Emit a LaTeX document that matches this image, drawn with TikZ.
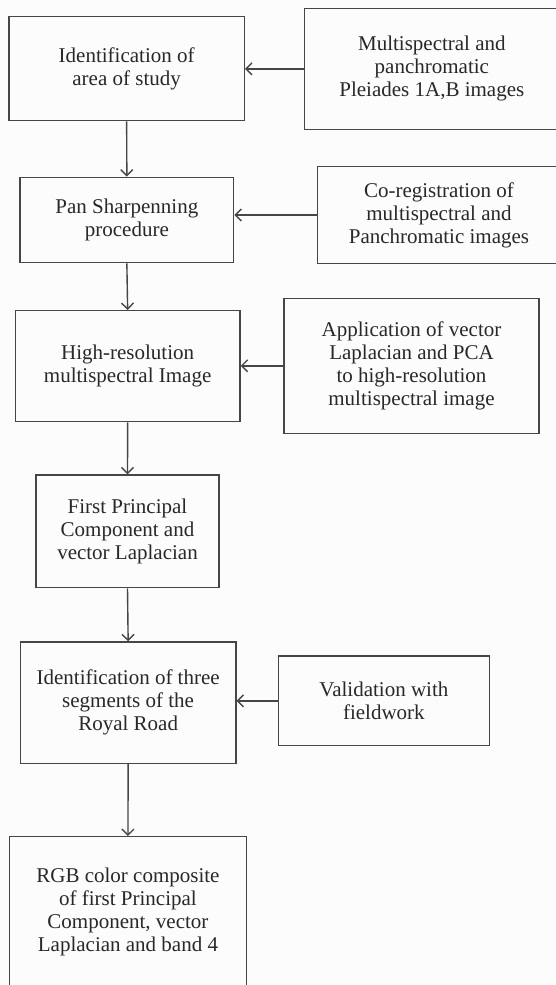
\documentclass[tikz,border=0pt]{standalone}
\usepackage{fontspec}
\setmainfont{Liberation Serif}
\usetikzlibrary{arrows.meta}
\definecolor{bg}{RGB}{252,252,252}
\definecolor{linec}{RGB}{70,70,70}
\definecolor{textc}{RGB}{40,40,40}
\tikzset{
  box/.style={draw=linec, line width=1.4pt, align=center, inner sep=0pt,
    text=textc, font=\fontsize{21}{23}\selectfont},
  conn/.style={draw=linec, line width=1.4pt, -{Straight Barb[length=6pt,width=12pt,line width=1.4pt]}}
}
\begin{document}
\begin{tikzpicture}[x=1pt,y=-1pt]
\fill[bg] (0,0) rectangle (555,985);
\useasboundingbox (0,0) rectangle (555,985);
% left column
\node[box, minimum width=235.3pt, minimum height=104pt] (b1) at (126.65,68.7) {Identification of\\area of study};
\node[box, minimum width=213.7pt, minimum height=85.4pt] (b3) at (126.85,220) {Pan Sharpenning\\procedure};
\node[box, minimum width=224.7pt, minimum height=111pt] (b5) at (127.65,366.2) {High-resolution\\multispectral Image};
\node[box, minimum width=183pt, minimum height=112.7pt] (b7) at (127.5,531.35) {First Principal\\Component and\\vector Laplacian};
\node[box, minimum width=215.3pt, minimum height=121.3pt] (b8) at (128.15,702.65) {Identification of three\\segments of the\\Royal Road};
\node[box, minimum width=237.5pt, minimum height=151pt] (b10) at (127.95,912.2) {RGB color composite\\of first Principal\\Component, vector\\Laplacian and band 4};
% right column
\node[box, minimum width=254.3pt, minimum height=121pt] (b2) at (431.85,68.8) {Multispectral and\\panchromatic\\Pleiades 1A,B images};
\node[box, minimum width=243.4pt, minimum height=96.6pt] (b4) at (439,215) {Co-registration of\\multispectral and\\Panchromatic images};
\node[box, minimum width=255pt, minimum height=135pt] (b6) at (411.5,365.8) {Application of vector\\Laplacian and PCA\\to high-resolution\\multispectral image};
\node[box, minimum width=211.4pt, minimum height=89.7pt] (b9) at (383.9,700.85) {Validation with\\fieldwork};
% vertical connectors
\draw[conn] (b1.south) -- (b3.north);
\draw[conn] (b3.south) -- (b5.north);
\draw[conn] (b5.south) -- (b7.north);
\draw[conn] (b7.south) -- (b8.north);
\draw[conn] (b8.south) -- (b10.north);
% horizontal connectors
\draw[conn] (b2.west) -- (b2.west -| b1.east);
\draw[conn] (b4.west) -- (b4.west -| b3.east);
\draw[conn] (b6.west) -- (b6.west -| b5.east);
\draw[conn] (b9.west) -- (b9.west -| b8.east);
\end{tikzpicture}
\end{document}
